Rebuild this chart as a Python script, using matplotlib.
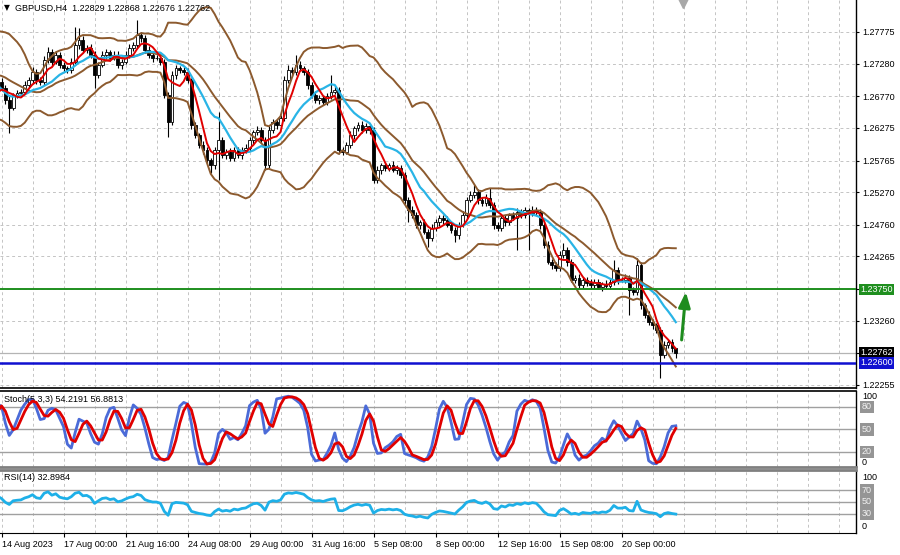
import numpy as np
import pandas as pd
import matplotlib.pyplot as plt
from matplotlib.transforms import blended_transform_factory

plt.rcParams['font.family'] = ['Liberation Sans', 'DejaVu Sans']

# GBPUSD H4 candles.
# 20 bars before the visible window, only there to warm up the indicators
prior_close = [1.2715, 1.2725, 1.2738, 1.2748, 1.2745, 1.2750, 1.2760, 1.2763, 1.2752, 1.2720,
               1.2692, 1.2672, 1.2668, 1.2676, 1.2662, 1.2670, 1.2680, 1.2676, 1.2690, 1.2700]
prior_up = [6, 5, 7, 5, 4, 6, 8, 9, 5, 4, 6, 5, 4, 5, 6, 4, 5, 6, 5, 4]
prior_dn = [5, 4, 6, 5, 4, 5, 6, 4, 7, 8, 6, 5, 6, 4, 5, 6, 4, 5, 6, 5]

# visible bars, 14 Aug 08:00 .. 21 Sep 12:00 (open = previous close)
close = [
    1.2690, 1.2671, 1.2659, 1.2679, 1.2682, 1.2684, 1.2695, 1.2702, 1.2715, 1.2702,
    1.2699, 1.2734, 1.2746, 1.2731, 1.2742, 1.2726, 1.2721, 1.2718, 1.2731, 1.2757,
    1.2765, 1.2749, 1.2752, 1.2742, 1.2710,
    1.2726, 1.2742, 1.2746, 1.2737, 1.2742, 1.2726, 1.2731, 1.2742, 1.2752, 1.2757,
    1.2773, 1.2768, 1.2749, 1.2742, 1.2737, 1.2737, 1.2731, 1.2679, 1.2637, 1.2710,
    1.2721, 1.2718, 1.2715, 1.2702, 1.2632,
    1.2616, 1.2601, 1.2593, 1.2577, 1.2569, 1.2593, 1.2609, 1.2585, 1.2590, 1.2580,
    1.2593, 1.2585, 1.2593, 1.2596, 1.2609, 1.2621, 1.2624, 1.2609, 1.2569, 1.2624,
    1.2637, 1.2632, 1.2643, 1.2702, 1.2718,
    1.2715, 1.2726, 1.2721, 1.2715, 1.2695, 1.2679, 1.2671, 1.2674, 1.2668, 1.2677,
    1.2684, 1.2687, 1.2593, 1.2590, 1.2601, 1.2616, 1.2627, 1.2632, 1.2624, 1.2630,
    1.2624, 1.2546, 1.2562, 1.2569, 1.2565,
    1.2569, 1.2562, 1.2565, 1.2554, 1.2515, 1.2499, 1.2491, 1.2476, 1.2480, 1.2465,
    1.2455, 1.2471, 1.2480, 1.2487, 1.2483, 1.2476, 1.2468, 1.2460, 1.2476, 1.2491,
    1.2515, 1.2523, 1.2527, 1.2515, 1.2510,
    1.2518, 1.2507, 1.2476, 1.2471, 1.2487, 1.2480, 1.2491, 1.2487, 1.2496, 1.2491,
    1.2499, 1.2494, 1.2499, 1.2496, 1.2476, 1.2444, 1.2418, 1.2413, 1.2408, 1.2429,
    1.2437, 1.2418, 1.2390, 1.2393, 1.2382,
    1.2390, 1.2385, 1.2382, 1.2387, 1.2379, 1.2383, 1.2380, 1.2387, 1.2405, 1.2390,
    1.2390, 1.2393, 1.2374, 1.2371, 1.2413, 1.2350, 1.2335, 1.2324, 1.2319, 1.2311,
    1.2272, 1.2288, 1.2293, 1.22829, 1.22762,
]
# wick lengths in pips, above and below the body
up_wick = [
    5, 4, 6, 3, 5, 4, 6, 5, 7, 4, 5, 6, 8, 5, 6, 4, 5, 4, 6, 28, 19, 6, 5, 7, 5,
    4, 6, 5, 4, 5, 6, 4, 5, 6, 5, 23, 5, 4, 6, 5, 4, 6, 5, 4, 7, 5, 4, 5, 6, 4,
    5, 4, 6, 5, 4, 5, 43, 5, 4, 6, 5, 4, 5, 6, 5, 4, 6, 5, 4, 6, 5, 4, 5, 6, 8,
    5, 16, 6, 4, 5, 4, 6, 5, 4, 5, 26, 6, 5, 4, 5, 6, 4, 5, 6, 5, 4, 5, 6, 4, 5,
    4, 6, 5, 4, 5, 4, 6, 5, 4, 5, 4, 6, 5, 4, 5, 6, 4, 5, 4, 6, 5, 6, 11, 5, 4,
    6, 15, 5, 4, 6, 5, 4, 5, 6, 4, 5, 4, 6, 5, 4, 5, 6, 4, 5, 6, 11, 5, 4, 5, 6,
    4, 5, 6, 4, 5, 4, 6, 5, 16, 5, 4, 6, 5, 4, 11, 5, 4, 6, 5, 4, 5, 6, 4, 5, 0.4,
]
dn_wick = [
    5, 6, 39, 4, 5, 6, 4, 5, 4, 6, 5, 4, 5, 6, 4, 5, 6, 4, 5, 4, 6, 5, 4, 5, 20,
    5, 4, 6, 5, 4, 5, 6, 4, 5, 4, 5, 6, 4, 5, 6, 4, 5, 4, 24, 5, 6, 4, 5, 4, 6,
    4, 5, 6, 4, 12, 5, 47, 4, 6, 5, 4, 5, 6, 4, 5, 6, 4, 5, 7, 4, 5, 6, 4, 5, 4,
    6, 4, 5, 4, 6, 5, 4, 6, 5, 4, 5, 4, 6, 5, 4, 5, 6, 4, 5, 4, 6, 5, 4, 6, 5,
    5, 4, 6, 5, 6, 19, 4, 5, 6, 4, 14, 5, 4, 6, 5, 4, 5, 11, 6, 4, 5, 4, 5, 6, 4,
    5, 4, 6, 5, 4, 6, 5, 4, 50, 5, 4, 57, 5, 4, 6, 5, 4, 6, 5, 4, 5, 6, 4, 5, 6,
    5, 4, 6, 5, 4, 6, 5, 4, 5, 6, 4, 5, 39, 4, 5, 6, 5, 4, 6, 4, 35, 5, 4, 6, 8.6,
]

date_ticks = [0, 16, 32, 48, 64, 80, 96, 112, 128, 144, 160]
date_labels = ['14 Aug 2023', '17 Aug 00:00', '21 Aug 16:00', '24 Aug 08:00', '29 Aug 00:00',
               '31 Aug 16:00', '5 Sep 08:00', '8 Sep 00:00', '12 Sep 16:00', '15 Sep 08:00',
               '20 Sep 00:00']
price_ticks = [1.27775, 1.27280, 1.26770, 1.26275, 1.25765, 1.25270, 1.24760, 1.24265,
               1.23750, 1.23260, 1.22755, 1.22255]
price_labels = ['1.27775', '1.27280', '1.26770', '1.26275', '1.25765', '1.25270', '1.24760',
                '1.24265', '', '1.23260', '', '1.22255']

green_level = 1.23750
blue_level = 1.22600
bid = 1.22762

# indicators
c = np.array(prior_close + close)
o = np.r_[c[0], c[:-1]]
hi = np.maximum(o, c) + np.array(prior_up + up_wick) / 1e4
lo = np.minimum(o, c) - np.array(prior_dn + dn_wick) / 1e4
x = np.arange(len(c)) - len(prior_close)

s = pd.Series(c)
ma_fast = s.rolling(5).mean()
ma_slow = s.rolling(13).mean()
bb_mid = s.rolling(20).mean()
bb_sd = s.rolling(20).std(ddof=0)
bb_up = bb_mid + 2 * bb_sd
bb_dn = bb_mid - 2 * bb_sd

hh = pd.Series(hi).rolling(5).max()
ll = pd.Series(lo).rolling(5).min()
st_main = 100 * (s - ll).rolling(3).sum() / (hh - ll).rolling(3).sum()
st_sig = st_main.rolling(3).mean()

delta = s.diff()
gain = delta.clip(lower=0).ewm(alpha=1 / 14, adjust=False).mean()
loss = (-delta.clip(upper=0)).ewm(alpha=1 / 14, adjust=False).mean()
rsi = 100 - 100 / (1 + gain / loss)

# figure
W, H = 900, 555
fig = plt.figure(figsize=(W / 100, H / 100), dpi=100)


def panel(top, bottom):
    return fig.add_axes([0, 1 - bottom / H, 856 / W, (bottom - top) / H])


ax = panel(0, 388)
ax_st = panel(391, 467)
ax_rsi = panel(470, 533)

grid_kw = dict(color='#c4c4c4', lw=0.7, ls=(0, (3, 3)), zorder=0)
for a in (ax, ax_st, ax_rsi):
    a.set_xlim(-0.39, 220.5)
    for g in range(0, 221, 8):
        a.axvline(g, **grid_kw)
    a.spines['left'].set_visible(False)
    a.tick_params(axis='x', length=0, labelbottom=False)
    a.yaxis.tick_right()
    a.spines['right'].set_linewidth(1.0)

# main chart
ax.set_ylim(1.22208, 1.28275)
for p in price_ticks:
    ax.axhline(p, **grid_kw)
ax.set_yticks(price_ticks, price_labels, fontsize=6.5)
ax.tick_params(axis='y', length=2.5, pad=2, width=0.8)
ax.spines['top'].set_visible(False)
ax.spines['bottom'].set_linewidth(1.2)

ax.axhline(bid, color='#b4b4b4', lw=0.9, zorder=1)
ax.vlines(x, lo, hi, color='black', lw=0.8, zorder=2)
bull = c >= o
ax.bar(x, np.maximum(np.abs(c - o), 0.00004), bottom=np.minimum(o, c), width=0.72,
       color=np.where(bull, 'white', 'black'), edgecolor='black', lw=0.6, zorder=3)

brown = '#8c5a2e'
for band in (bb_up, bb_mid, bb_dn):
    ax.plot(x, band, color=brown, lw=1.4, zorder=4)
ax.plot(x, ma_slow, color='#29b4e6', lw=1.6, zorder=5)
ax.plot(x, ma_fast, color='#e00000', lw=1.4, zorder=6)

ax.axhline(green_level, color='#1f8f1f', lw=1.4, zorder=5)
ax.axhline(blue_level, color='#1010d0', lw=1.8, zorder=5)

ax.annotate('', xy=(176.6, 1.2371), xytext=(175.5, 1.2296),
            arrowprops=dict(arrowstyle='-|>,head_width=0.35,head_length=0.9',
                            color='#1e8c1e', lw=2.2, shrinkA=0, shrinkB=0), zorder=7)

tr = blended_transform_factory(ax.transAxes, ax.transData)
for lvl, txt, fc in ((green_level, '1.23750', '#1f8f1f'), (bid, '1.22762', 'black'),
                     (blue_level, '1.22600', '#1010d0')):
    ax.text(1 + 4 / 856, lvl, txt, transform=tr, ha='left', va='center', fontsize=6.5,
            color='white', bbox=dict(boxstyle='square,pad=0.15', fc=fc, ec='none'))

ax.plot(683 / 856, 1 - 3 / 388, marker='v', ms=7, color='#a8a8a8',
        transform=ax.transAxes, clip_on=False)

fig.text(4 / W, 1 - 8 / H, '\u25bc', fontsize=5.5, va='center',
         family=['DejaVu Sans'])
fig.text(15 / W, 1 - 8 / H, 'GBPUSD,H4  1.22829 1.22868 1.22676 1.22762',
         fontsize=6.5, va='center')

# stochastic
ax_st.set_ylim(0, 101.3)
ax_st.set_yticks([])
for lvl in (20, 50, 80):
    ax_st.axhline(lvl, color='#a0a0a0', lw=1.0, zorder=1)
ax_st.plot(x, st_main, color='#4b6bd8', lw=2.0, zorder=3)
ax_st.plot(x, st_sig, color='#e00000', lw=2.0, zorder=4)
ax_st.spines['top'].set_linewidth(1.2)
ax_st.spines['bottom'].set_color('#808080')
ax_st.spines['bottom'].set_linewidth(2)
ax_st.text(4 / 856, 1 - 8 / 76, 'Stoch(5,3,3) 54.2191 56.8813', transform=ax_st.transAxes,
           va='center', fontsize=6.5)

# rsi
ax_rsi.set_ylim(-3.5, 105.2)
ax_rsi.set_yticks([])
for lvl in (30, 50, 70):
    ax_rsi.axhline(lvl, color='#a0a0a0', lw=1.0, zorder=1)
ax_rsi.plot(x, rsi, color='#1eb0e8', lw=2.0, zorder=3)
ax_rsi.spines['top'].set_color('#808080')
ax_rsi.spines['top'].set_linewidth(2)
ax_rsi.text(4 / 856, 1 - 8 / 63, 'RSI(14) 32.8984', transform=ax_rsi.transAxes,
            va='center', fontsize=6.5)

for a, plain, boxed in ((ax_st, (100, 0), (80, 50, 20)), (ax_rsi, (100, 0), (70, 50, 30))):
    t = blended_transform_factory(a.transAxes, a.transData)
    a.text(1 + 6 / 856, plain[0], str(plain[0]), transform=t, va='top', fontsize=6.5)
    a.text(1 + 6 / 856, plain[1], str(plain[1]), transform=t, va='bottom', fontsize=6.5)
    for lvl in boxed:
        a.text(1 + 6 / 856, lvl, str(lvl), transform=t, va='center', fontsize=6.5,
               color='#f2f2f2', bbox=dict(boxstyle='square,pad=0.18', fc='#959595', ec='none'))

ax_rsi.set_xticks(date_ticks)
ax_rsi.set_xticklabels(date_labels, fontsize=6.5, ha='left')
ax_rsi.tick_params(axis='x', length=3, pad=2, labelbottom=True)

fig.savefig('out.png', dpi=100)
